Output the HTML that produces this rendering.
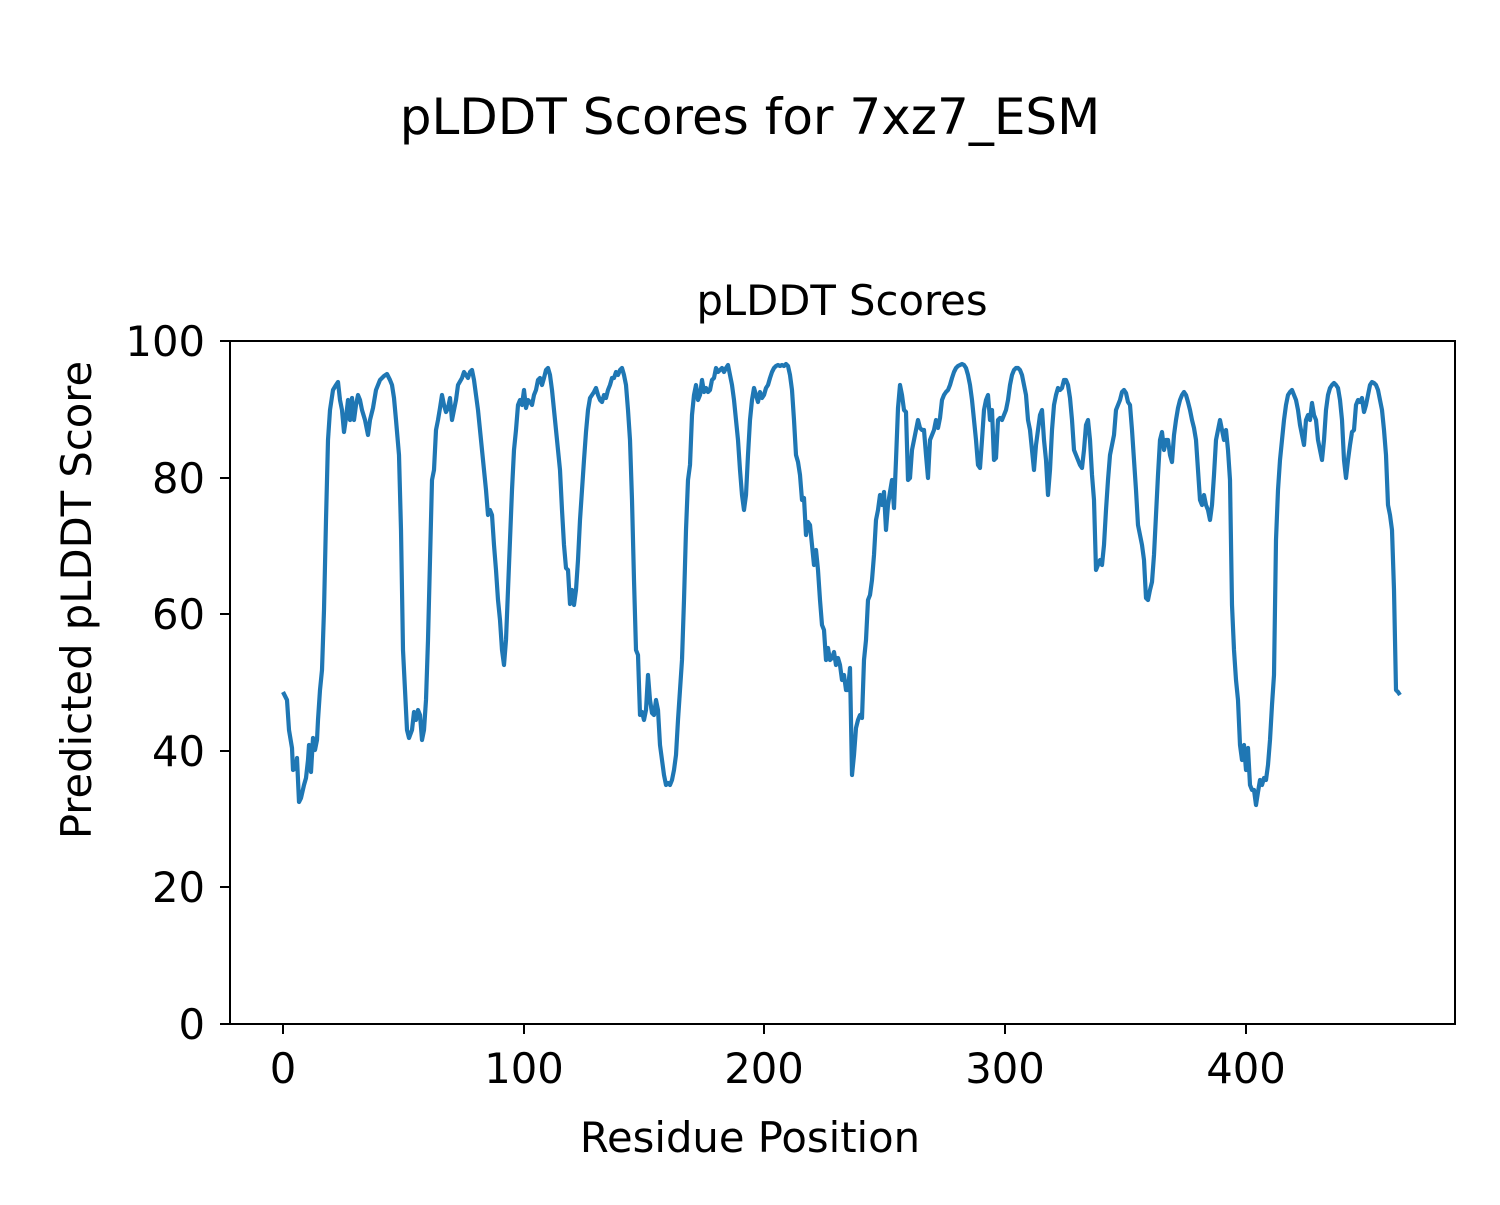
<!DOCTYPE html>
<html><head><meta charset="utf-8"><style>body{margin:0;background:#fff}</style></head><body>
<svg width="1500" height="1200" xmlns="http://www.w3.org/2000/svg" font-family="'DejaVu Sans','Liberation Sans',sans-serif" fill="#000">
<rect width="1500" height="1200" fill="#fff"/>
<text x="750" y="134" font-size="50" text-anchor="middle">pLDDT Scores for 7xz7_ESM</text>
<text x="842" y="315" font-size="41.7" text-anchor="middle">pLDDT Scores</text>
<g stroke="#000" stroke-width="2">
<line x1="283" y1="1024" x2="283" y2="1034"/><line x1="524" y1="1024" x2="524" y2="1034"/><line x1="764" y1="1024" x2="764" y2="1034"/><line x1="1005" y1="1024" x2="1005" y2="1034"/><line x1="1246" y1="1024" x2="1246" y2="1034"/>
<line x1="220" y1="1024" x2="230" y2="1024"/><line x1="220" y1="887" x2="230" y2="887"/><line x1="220" y1="751" x2="230" y2="751"/><line x1="220" y1="614" x2="230" y2="614"/><line x1="220" y1="478" x2="230" y2="478"/><line x1="220" y1="341" x2="230" y2="341"/>
</g>
<g font-size="41.7" text-anchor="middle">
<text x="283" y="1083">0</text><text x="524" y="1083">100</text><text x="764" y="1083">200</text><text x="1005" y="1083">300</text><text x="1246" y="1083">400</text>
</g>
<g font-size="41.7" text-anchor="end">
<text x="205" y="1039">0</text><text x="205" y="902">20</text><text x="205" y="766">40</text><text x="205" y="629">60</text><text x="205" y="493">80</text><text x="205" y="356">100</text>
</g>
<text x="750" y="1152" font-size="41.7" text-anchor="middle">Residue Position</text>
<text transform="translate(91,600) rotate(-90)" font-size="41.7" text-anchor="middle">Predicted pLDDT Score</text>
<polyline fill="none" stroke="#1f77b4" stroke-width="4.2" stroke-linejoin="round" points="283,692 287,700 289,730 292,748 293,770 296,768 297,758 299,802 301,798 304,785 306,778 308,760 309,745 311,772 313,738 315,750 317,740 318,720 320,690 322,670 324,610 326,520 328,440 330,410 333,390 336,385 338,382 340,400 342,410 344,432 346,418 348,400 350,420 352,398 354,420 356,405 358,395 360,400 362,410 365,420 368,435 370,420 373,408 376,390 380,380 384,376 387,374 390,380 392,385 394,398 396,420 399,455 401,530 403,650 405,690 407,730 409,738 412,730 414,712 416,720 418,710 420,715 422,740 424,730 426,700 428,640 430,560 432,480 434,470 436,430 438,420 440,408 442,395 444,405 446,412 448,408 450,398 452,420 454,410 456,400 458,385 462,378 464,372 466,375 468,378 470,372 472,370 474,380 476,395 478,410 480,430 482,450 484,470 486,490 488,515 490,510 492,515 494,545 496,570 498,600 500,620 502,650 504,665 506,640 508,590 510,540 512,490 514,450 516,430 518,405 520,400 522,405 524,390 526,408 528,400 530,402 532,405 534,395 536,390 538,380 540,378 542,385 544,378 546,370 548,368 550,375 552,390 554,410 556,430 558,450 560,470 562,510 564,545 566,568 568,570 570,604 572,590 574,605 576,590 578,560 580,520 582,490 584,460 586,432 588,410 590,398 592,395 594,392 596,388 598,395 600,400 602,402 604,395 606,398 608,390 610,385 612,378 614,378 616,372 618,375 620,370 622,368 624,375 626,385 628,410 630,440 632,500 634,580 636,650 638,655 640,715 642,712 644,720 646,710 648,675 650,700 652,713 654,715 656,700 658,710 660,745 662,760 664,775 666,785 668,783 670,785 672,780 674,770 676,755 678,720 680,690 682,660 684,600 686,530 688,480 690,465 692,415 694,395 696,385 698,400 700,395 702,380 704,392 706,388 708,392 710,390 712,380 714,378 716,368 718,372 720,370 722,368 724,372 726,368 728,365 730,375 732,385 734,400 736,420 738,440 740,470 742,495 744,510 746,495 748,455 750,420 752,400 754,388 756,395 758,402 760,392 762,398 764,395 766,388 768,385 770,378 772,372 774,368 776,366 778,365 780,366 782,365 784,366 786,364 788,366 790,375 792,390 794,420 796,455 798,462 800,475 802,500 804,498 806,535 808,522 810,525 812,545 814,565 816,550 818,570 820,600 822,625 824,630 826,660 828,648 830,660 832,658 834,652 836,665 838,658 840,665 842,680 844,675 846,690 848,690 850,668 852,775 854,755 856,728 858,720 860,715 862,718 864,660 866,640 868,600 870,595 872,580 874,555 876,520 878,510 880,495 882,505 884,492 886,530 888,505 890,492 892,480 894,508 896,460 898,408 900,385 902,395 904,410 906,412 908,480 910,478 912,450 914,440 916,430 918,420 920,428 922,430 924,430 926,455 928,478 930,440 932,435 934,430 936,420 938,428 940,418 942,400 944,395 946,392 948,390 950,385 952,378 954,372 956,368 958,366 960,365 962,364 964,365 966,368 968,375 970,385 972,400 974,420 976,440 978,465 980,468 982,440 984,410 986,400 988,395 990,420 992,410 994,460 996,458 998,420 1000,418 1002,420 1004,415 1006,410 1008,400 1010,385 1012,375 1014,370 1016,368 1018,368 1020,370 1022,375 1024,385 1026,395 1028,420 1030,430 1032,450 1034,470 1036,445 1038,430 1040,415 1042,410 1044,440 1046,460 1048,495 1050,470 1052,430 1054,405 1056,395 1058,388 1060,390 1062,388 1064,380 1066,380 1068,385 1070,398 1072,420 1074,450 1076,455 1078,460 1080,465 1082,468 1084,450 1086,425 1088,420 1090,440 1092,475 1094,500 1096,570 1098,565 1100,560 1102,565 1104,545 1106,510 1108,480 1110,455 1112,445 1114,435 1116,410 1118,405 1120,400 1122,392 1124,390 1126,393 1128,402 1130,405 1132,430 1134,460 1136,490 1138,525 1140,535 1142,545 1144,560 1146,598 1148,600 1150,590 1152,582 1154,555 1156,515 1158,475 1160,440 1162,432 1164,450 1166,440 1168,440 1170,455 1172,462 1174,435 1176,420 1178,408 1180,400 1182,395 1184,392 1186,395 1188,402 1190,410 1192,420 1194,428 1196,440 1198,470 1200,500 1202,505 1204,495 1206,505 1208,510 1210,520 1212,505 1214,475 1216,440 1218,430 1220,420 1222,430 1224,440 1226,430 1228,450 1230,480 1232,605 1234,650 1236,680 1238,700 1240,745 1242,760 1244,745 1246,770 1248,748 1250,785 1252,790 1254,790 1256,805 1258,792 1260,780 1262,785 1264,778 1266,780 1268,765 1270,740 1272,705 1274,675 1276,540 1278,490 1280,460 1282,440 1284,420 1286,405 1288,395 1290,392 1292,390 1294,395 1296,400 1298,410 1300,425 1302,435 1304,445 1306,420 1308,415 1310,420 1312,403 1314,415 1316,420 1318,440 1320,450 1322,460 1324,440 1326,410 1328,395 1330,388 1332,385 1334,383 1336,385 1338,388 1340,400 1342,420 1344,460 1346,478 1348,460 1350,445 1352,432 1354,430 1356,405 1358,400 1360,402 1362,398 1364,412 1366,405 1368,395 1370,385 1372,382 1374,383 1376,385 1378,390 1380,400 1382,410 1384,430 1386,455 1388,505 1390,515 1392,530 1394,590 1396,690 1398,692 1400,695"/>
<rect x="230" y="341" width="1225" height="683" fill="none" stroke="#000" stroke-width="2"/>
</svg>
</body></html>
